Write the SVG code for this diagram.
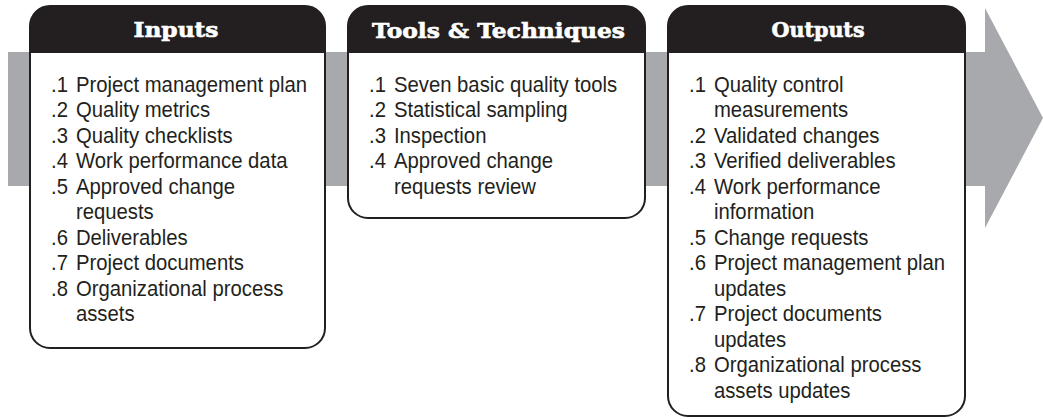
<svg xmlns="http://www.w3.org/2000/svg" width="1043" height="419" viewBox="0 0 1043 419">
  <style>
    .box { fill: #ffffff; stroke: #231f20; stroke-width: 2; }
    .hdr { fill: #231f20; }
    .htxt { font-family: "DejaVu Serif", "Liberation Serif", serif; font-weight: bold; font-size: 20px; fill: #ffffff; stroke: #ffffff; stroke-width: 0.6; text-anchor: middle; }
    .item { font-family: "Liberation Sans", Arial, sans-serif; font-size: 22px; fill: #231f20; }
    .arrow { fill: #a7a9ac; }
  </style>
  <g id="connectors">
    <polygon class="arrow" points="8,52 985,52 985,8 1043,118 985,228 985,186 8,186"/>
  </g>

  <g id="inputs">
    <path class="box" d="M50,6 H305 A20,20 0 0 1 325,26 V328 A20,20 0 0 1 305,348 H50 A20,20 0 0 1 30,328 V26 A20,20 0 0 1 50,6 Z"/>
    <path class="hdr" d="M50,6 H305 A20,20 0 0 1 325,26 V53 H30 V26 A20,20 0 0 1 50,6 Z"/>
    <text class="htxt" x="176" y="37" textLength="85" lengthAdjust="spacingAndGlyphs">Inputs</text>
    <g transform="translate(51 0) scale(0.923 1)" class="item">
      <text y="92"><tspan x="0">.1</tspan><tspan x="27">Project management plan</tspan></text>
      <text y="117.5"><tspan x="0">.2</tspan><tspan x="27">Quality metrics</tspan></text>
      <text y="143"><tspan x="0">.3</tspan><tspan x="27">Quality checklists</tspan></text>
      <text y="168.5"><tspan x="0">.4</tspan><tspan x="27">Work performance data</tspan></text>
      <text y="194"><tspan x="0">.5</tspan><tspan x="27">Approved change</tspan></text>
      <text x="27" y="219.5">requests</text>
      <text y="245"><tspan x="0">.6</tspan><tspan x="27">Deliverables</tspan></text>
      <text y="270.5"><tspan x="0">.7</tspan><tspan x="27">Project documents</tspan></text>
      <text y="296"><tspan x="0">.8</tspan><tspan x="27">Organizational process</tspan></text>
      <text x="27" y="321.5">assets</text>
    </g>
  </g>

  <g id="tools">
    <path class="box" d="M368,6 H625 A20,20 0 0 1 645,26 V198 A20,20 0 0 1 625,218 H368 A20,20 0 0 1 348,198 V26 A20,20 0 0 1 368,6 Z"/>
    <path class="hdr" d="M368,6 H625 A20,20 0 0 1 645,26 V53 H348 V26 A20,20 0 0 1 368,6 Z"/>
    <text class="htxt" x="498.5" y="38" textLength="253" lengthAdjust="spacingAndGlyphs">Tools &amp; Techniques</text>
    <g transform="translate(369 0) scale(0.923 1)" class="item">
      <text y="92"><tspan x="0">.1</tspan><tspan x="27">Seven basic quality tools</tspan></text>
      <text y="117.5"><tspan x="0">.2</tspan><tspan x="27">Statistical sampling</tspan></text>
      <text y="143"><tspan x="0">.3</tspan><tspan x="27">Inspection</tspan></text>
      <text y="168.5"><tspan x="0">.4</tspan><tspan x="27">Approved change</tspan></text>
      <text x="27" y="194">requests review</text>
    </g>
  </g>

  <g id="outputs">
    <path class="box" d="M688,6 H945 A20,20 0 0 1 965,26 V396 A20,20 0 0 1 945,416 H688 A20,20 0 0 1 668,396 V26 A20,20 0 0 1 688,6 Z"/>
    <path class="hdr" d="M688,6 H945 A20,20 0 0 1 965,26 V53 H668 V26 A20,20 0 0 1 688,6 Z"/>
    <text class="htxt" x="818" y="37" textLength="93" lengthAdjust="spacingAndGlyphs">Outputs</text>
    <g transform="translate(689 0) scale(0.923 1)" class="item">
      <text y="92"><tspan x="0">.1</tspan><tspan x="27">Quality control</tspan></text>
      <text x="27" y="117.5">measurements</text>
      <text y="143"><tspan x="0">.2</tspan><tspan x="27">Validated changes</tspan></text>
      <text y="168.5"><tspan x="0">.3</tspan><tspan x="27">Verified deliverables</tspan></text>
      <text y="194"><tspan x="0">.4</tspan><tspan x="27">Work performance</tspan></text>
      <text x="27" y="219.5">information</text>
      <text y="245"><tspan x="0">.5</tspan><tspan x="27">Change requests</tspan></text>
      <text y="270.5"><tspan x="0">.6</tspan><tspan x="27">Project management plan</tspan></text>
      <text x="27" y="296">updates</text>
      <text y="321.5"><tspan x="0">.7</tspan><tspan x="27">Project documents</tspan></text>
      <text x="27" y="347">updates</text>
      <text y="372.5"><tspan x="0">.8</tspan><tspan x="27">Organizational process</tspan></text>
      <text x="27" y="398">assets updates</text>
    </g>
  </g>
</svg>
